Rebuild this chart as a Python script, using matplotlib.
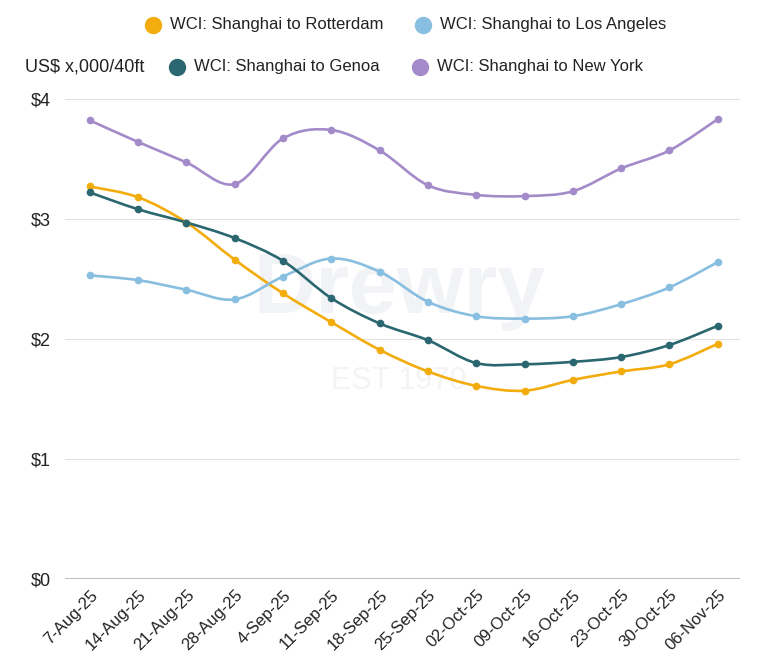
import matplotlib.pyplot as plt
from matplotlib.path import Path
from matplotlib.patches import PathPatch
from matplotlib.lines import Line2D

plt.rcParams['font.family'] = ['Liberation Sans', 'DejaVu Sans']

dates = ['7-Aug-25', '14-Aug-25', '21-Aug-25', '28-Aug-25', '4-Sep-25', '11-Sep-25',
         '18-Sep-25', '25-Sep-25', '02-Oct-25', '09-Oct-25', '16-Oct-25', '23-Oct-25',
         '30-Oct-25', '06-Nov-25']

rotterdam = [3.27, 3.18, 2.97, 2.66, 2.38, 2.14, 1.91, 1.73, 1.61, 1.57, 1.66, 1.73, 1.79, 1.96]
los_angeles = [2.53, 2.49, 2.41, 2.33, 2.52, 2.67, 2.56, 2.31, 2.19, 2.17, 2.19, 2.29, 2.43, 2.64]
genoa = [3.22, 3.08, 2.97, 2.84, 2.65, 2.34, 2.13, 1.99, 1.80, 1.79, 1.81, 1.85, 1.95, 2.11]
new_york = [3.82, 3.64, 3.47, 3.29, 3.67, 3.74, 3.57, 3.28, 3.20, 3.19, 3.23, 3.42, 3.57, 3.83]

series = [
    ('WCI: Shanghai to Rotterdam', rotterdam, '#F2AC0C'),
    ('WCI: Shanghai to Los Angeles', los_angeles, '#88BEDF'),
    ('WCI: Shanghai to Genoa', genoa, '#2B6770'),
    ('WCI: Shanghai to New York', new_york, '#A38BC9'),
]
yticks = [0, 1, 2, 3, 4]
ylabels = ['$0', '$1', '$2', '$3', '$4']


def smooth_path(xs, ys):
    # catmull-rom style bezier through the points
    n = len(xs)
    verts = [(xs[0], ys[0])]
    codes = [Path.MOVETO]
    for i in range(n - 1):
        x0, y0 = (xs[i - 1], ys[i - 1]) if i > 0 else (xs[i], ys[i])
        x3, y3 = (xs[i + 2], ys[i + 2]) if i + 2 < n else (xs[i + 1], ys[i + 1])
        c1 = (xs[i] + (xs[i + 1] - x0) / 6, ys[i] + (ys[i + 1] - y0) / 6)
        c2 = (xs[i + 1] - (x3 - xs[i]) / 6, ys[i + 1] - (y3 - ys[i]) / 6)
        verts += [c1, c2, (xs[i + 1], ys[i + 1])]
        codes += [Path.CURVE4] * 3
    return Path(verts, codes)


fig = plt.figure(figsize=(7.62, 6.72), dpi=100)
ax = fig.add_axes([0.085, 0.138, 0.886, 0.715])

x = list(range(len(dates)))

# watermark
ax.text(6.4, 2.4, 'Drewry', fontsize=62, fontweight='bold', color='#f1f3f6',
        ha='center', va='center', zorder=0)
ax.text(6.4, 1.65, 'EST 1970', fontsize=22, color='#f3f4f6',
        ha='center', va='center', zorder=0)

for name, vals, col in series:
    ax.add_patch(PathPatch(smooth_path(x, vals), fill=False, edgecolor=col, lw=1.9, zorder=3))
    ax.plot(x, vals, 'o', color=col, ms=4.5, zorder=4)

ax.set_xlim(-0.52, 13.46)
ax.set_ylim(0, 4)
ax.set_yticks(yticks)
ax.set_yticklabels(ylabels)
ax.set_xticks(x)
ax.set_xticklabels(dates, rotation=45, ha='right', rotation_mode='anchor')
for sp in ax.spines.values():
    sp.set_visible(False)
ax.grid(axis='y', color='#e2e2e2', lw=0.8, zorder=0)
ax.axhline(0, color='#bdbdbd', lw=1.5, zorder=1)
ax.tick_params(axis='both', length=0, labelsize=12, colors='#222222')
ax.tick_params(axis='y', pad=10, labelsize=13)
ax.tick_params(axis='x', pad=6)

# legend laid out by hand
fig.text(25 / 762, 1 - 67 / 672, 'US$ x,000/40ft', fontsize=13, va='center', ha='left', color='#222222')
leg = [(153, 25, 0), (423, 25, 1), (177, 67, 2), (420, 67, 3)]
for px, py, k in leg:
    name, vals, col = series[k]
    fig.add_artist(Line2D([px / 762], [1 - py / 672], marker='o', ms=11.5, color=col,
                          transform=fig.transFigure))
    fig.text((px + 17) / 762, 1 - py / 672, name, fontsize=12, va='center', ha='left', color='#222222')

fig.savefig('out.png', dpi=100, facecolor='white')
